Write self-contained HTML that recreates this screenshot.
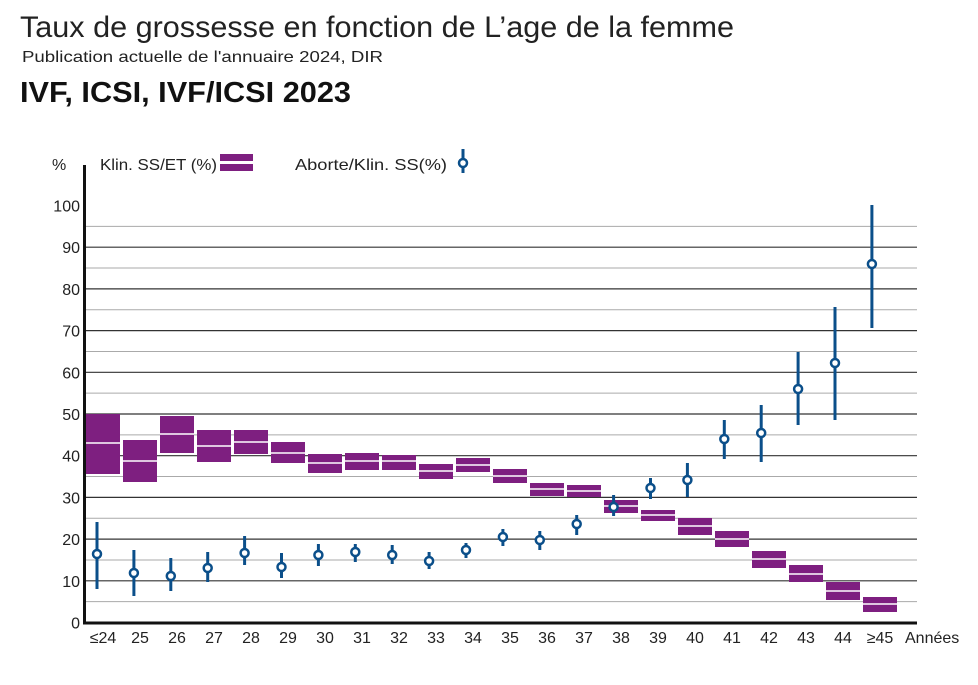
<!DOCTYPE html>
<html><head><meta charset="utf-8"><style>
body{margin:0;background:#fff;width:978px;height:680px;overflow:hidden;font-family:"Liberation Sans",sans-serif;}
</style></head><body>
<svg id="s" width="978" height="680" xmlns="http://www.w3.org/2000/svg" font-family="Liberation Sans, sans-serif">
<text x="20" y="37" font-size="30" fill="#222" textLength="714" lengthAdjust="spacingAndGlyphs">Taux de grossesse en fonction de L’age de la femme</text>
<text x="22" y="62" font-size="16" fill="#222" textLength="361" lengthAdjust="spacingAndGlyphs">Publication actuelle de l'annuaire 2024, DIR</text>
<text x="20" y="102" font-size="29" font-weight="bold" fill="#111" textLength="331" lengthAdjust="spacingAndGlyphs">IVF, ICSI, IVF/ICSI 2023</text>
<text x="52" y="170" font-size="16" fill="#222">%</text>
<text x="100" y="170" font-size="16" fill="#222" textLength="117" lengthAdjust="spacingAndGlyphs">Klin. SS/ET (%)</text>
<rect x="220" y="154" width="33" height="7" fill="#7e1f80"/>
<rect x="220" y="164" width="33" height="7" fill="#7e1f80"/>
<text x="295" y="170" font-size="16" fill="#222" textLength="152" lengthAdjust="spacingAndGlyphs">Aborte/Klin. SS(%)</text>
<line x1="463" y1="149" x2="463" y2="173" stroke="#0b4f8a" stroke-width="3"/>
<circle cx="463" cy="163" r="4" fill="#fff" stroke="#0b4f8a" stroke-width="2.5"/>
<g id="g"></g>
</svg>
<script>
var g=document.getElementById('g'),h='';
function Y(v){return 622.5-v*4.17;}
for(var v=5;v<=100;v+=5){var y=Y(v);if(v==100)continue;
h+='<line x1="85" x2="917" y1="'+y+'" y2="'+y+'" stroke="'+(v%10?'#aaa':'#333')+'" stroke-width="'+(v%10?1:1.2)+'"/>';}
for(var v=0;v<=100;v+=10){h+='<text x="80" y="'+(Y(v)+6)+'" font-size="16" text-anchor="end" fill="#222">'+v+'</text>';}
var labs=['≤24'];for(var i=25;i<=44;i++)labs.push(''+i);labs.push('≥45');
var B=[[414,443,474],[440,461,482],[416,434,453],[430,446,462],[430,442,454],[442,453,463],[454,463,473],
[453,461,470],[455,461,470],[464,471,479],[458,465,472],[469,476,483],[483,489,496],[485,491,497],
[500,506,513],[510,515,521],[518,526,535],[531,539,547],[551,559,568],[565,574,582],[582,591,600],[597,604,612]];
var E=[[554,522,589],[573,550,596],[576,558,591],[568,552,582],[553,536,565],[567,553,578],[555,544,566],
[552,544,562],[555,545,564],[561,552,569],[550,543,558],[537,529,546],[540,531,550],[524,515,535],
[507,495,516],[488,478,499],[480,463,497],[439,420,459],[433,405,462],[389,352,425],[363,307,420],[264,205,328]];
for(var i=0;i<22;i++){var x=86+37*i,b=B[i];
h+='<rect x="'+x+'" y="'+b[0]+'" width="34" height="'+(b[2]-b[0])+'" fill="#7e1f80"/>';
h+='<line x1="'+x+'" x2="'+(x+34)+'" y1="'+b[1]+'" y2="'+b[1]+'" stroke="#fff" stroke-width="1.5"/>';
var ex=97+36.9*i,e=E[i];
h+='<line x1="'+ex+'" x2="'+ex+'" y1="'+e[1]+'" y2="'+e[2]+'" stroke="#0b4f8a" stroke-width="3"/>';
h+='<circle cx="'+ex+'" cy="'+e[0]+'" r="4" fill="#fff" stroke="#0b4f8a" stroke-width="2.5"/>';
h+='<text x="'+(103+37*i)+'" y="643" font-size="16" text-anchor="middle" fill="#222">'+labs[i]+'</text>';}
h+='<text x="905" y="643" font-size="16" fill="#222">Années</text>';
h+='<line x1="84.5" x2="84.5" y1="165" y2="624" stroke="#111" stroke-width="3"/>';
h+='<line x1="83" x2="917" y1="623" y2="623" stroke="#111" stroke-width="3"/>';
g.innerHTML=h;
</script>
</body></html>
